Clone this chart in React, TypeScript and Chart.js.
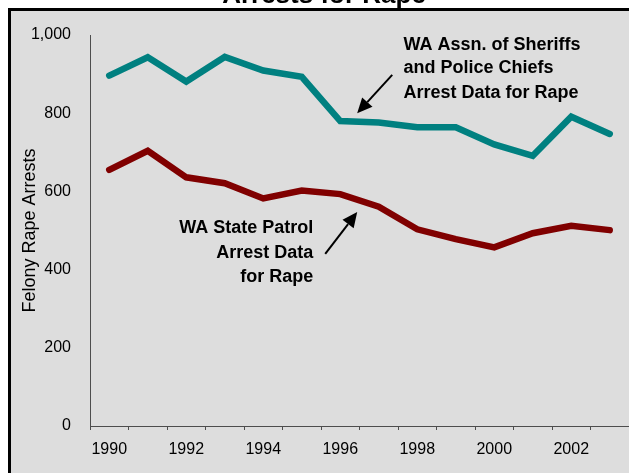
import React, { useEffect, useRef } from "react";
import { Chart, registerables } from "chart.js";

Chart.register(...registerables);

const years = ["1990","1991","1992","1993","1994","1995","1996","1997","1998","1999","2000","2001","2002","2003"];
const sheriffsData = [896, 943, 881, 944, 909, 893, 780, 776, 764, 764, 720, 691, 791, 747];
const patrolData = [655, 704, 636, 621, 582, 602, 593, 561, 503, 478, 457, 493, 512, 501];
const yTicks = [0, 200, 400, 600, 800, 1000];

const titleText = "Arrests for Rape";
const yTitle = "Felony Rape Arrests";
const sheriffsLabel = ["WA Assn. of Sheriffs", "and Police Chiefs", "Arrest Data for Rape"];
const patrolLabel = ["WA State Patrol", "Arrest Data", "for Rape"];

const FONT = "'Liberation Sans', Arial, Helvetica, sans-serif";

const framePlugin = {
  id: "frame",
  beforeDraw(chart: any) {
    const ctx = chart.ctx;
    ctx.save();
    ctx.fillStyle = "#ffffff";
    ctx.fillRect(0, 0, chart.width, chart.height);
    ctx.fillStyle = "#000000";
    ctx.font = `bold 26px ${FONT}`;
    ctx.textAlign = "center";
    ctx.textBaseline = "alphabetic";
    ctx.fillText(titleText, 324, 3);
    ctx.fillStyle = "#dddddd";
    ctx.fillRect(9.5, 9.5, chart.width + 50, chart.height + 50);
    ctx.strokeStyle = "#000000";
    ctx.lineWidth = 3;
    ctx.strokeRect(9.5, 9.5, chart.width + 50, chart.height + 50);
    ctx.restore();
  },
};

function arrow(ctx: any, x1: number, y1: number, x2: number, y2: number) {
  const ang = Math.atan2(y2 - y1, x2 - x1);
  const headLen = 15;
  const headW = 7;
  const bx = x2 - headLen * Math.cos(ang);
  const by = y2 - headLen * Math.sin(ang);
  ctx.beginPath();
  ctx.moveTo(x1, y1);
  ctx.lineTo(bx, by);
  ctx.lineWidth = 2;
  ctx.strokeStyle = "#000";
  ctx.stroke();
  ctx.beginPath();
  ctx.moveTo(x2, y2);
  ctx.lineTo(bx + headW * Math.sin(ang), by - headW * Math.cos(ang));
  ctx.lineTo(bx - headW * Math.sin(ang), by + headW * Math.cos(ang));
  ctx.closePath();
  ctx.fillStyle = "#000";
  ctx.fill();
}

const annotationPlugin = {
  id: "annotations",
  afterDatasetsDraw(chart: any) {
    const ctx = chart.ctx;
    const xs = chart.scales.x;
    const ys = chart.scales.y;
    const px = (i: number) => xs.getPixelForValue(i);
    const py = (v: number) => ys.getPixelForValue(v);
    ctx.save();
    ctx.fillStyle = "#000";
    ctx.font = `bold 18px ${FONT}`;
    ctx.textBaseline = "middle";
    ctx.textAlign = "left";
    const sVals = [974, 916, 852];
    sheriffsLabel.forEach((t, k) => ctx.fillText(t, px(7.64), py(sVals[k])));
    ctx.textAlign = "right";
    const pVals = [506, 442, 381];
    patrolLabel.forEach((t, k) => ctx.fillText(t, px(5.3), py(pVals[k])));
    arrow(ctx, px(7.35), py(898), px(6.44), py(800));
    arrow(ctx, px(5.61), py(440), px(6.44), py(547));
    ctx.restore();
  },
};

export default function App() {
  const ref = useRef<HTMLCanvasElement>(null);
  useEffect(() => {
    if (!ref.current) return;
    const chart = new Chart(ref.current, {
      type: "line",
      data: {
        labels: years,
        datasets: [
          {
            label: "Sheriffs",
            data: sheriffsData,
            borderColor: "#008080",
            backgroundColor: "#008080",
            borderWidth: 6.5,
            pointRadius: 0,
            tension: 0,
            borderCapStyle: "round",
            borderJoinStyle: "miter",
          },
          {
            label: "Patrol",
            data: patrolData,
            borderColor: "#800000",
            backgroundColor: "#800000",
            borderWidth: 6.5,
            pointRadius: 0,
            tension: 0,
            borderCapStyle: "round",
            borderJoinStyle: "miter",
          },
        ],
      },
      options: {
        responsive: false,
        animation: false,
        layout: { padding: { top: 35, left: 0, right: 0, bottom: 0 } },
        plugins: { legend: { display: false }, tooltip: { enabled: false }, title: { display: false } },
        scales: {
          x: {
            type: "category",
            offset: true,
            afterFit(scale: any) { scale.height = 47; },
            grid: { display: true, drawOnChartArea: false, drawTicks: true, tickLength: 4, color: "#4d4d4d", offset: true },
            border: { display: true, color: "#4d4d4d", width: 1 },
            ticks: {
              autoSkip: false,
              maxRotation: 0,
              minRotation: 0,
              padding: 10,
              color: "#000",
              font: { family: FONT, size: 16 },
              callback: (_v: any, i: number) => (i % 2 === 0 ? years[i] : ""),
            },
          },
          y: {
            min: 0,
            max: 1000,
            afterFit(scale: any) { scale.width = 90; },
            afterBuildTicks(scale: any) { scale.ticks = yTicks.map((v) => ({ value: v })); },
            grid: { display: false, drawTicks: false },
            border: { display: true, color: "#4d4d4d", width: 1 },
            ticks: {
              padding: 19,
              color: "#000",
              font: { family: FONT, size: 16 },
              callback: (v: any) => Number(v).toLocaleString("en-US"),
            },
            title: {
              display: true,
              text: yTitle,
              color: "#000",
              font: { family: FONT, size: 18 },
              padding: { top: 19, bottom: 0 },
            },
          },
        },
      },
      plugins: [framePlugin, annotationPlugin],
    } as any);
    return () => chart.destroy();
  }, []);
  return (
    <div style={{ position: "absolute", left: 0, top: 0, width: 629, height: 473 }}>
      <canvas ref={ref} width={629} height={473} style={{ width: 629, height: 473, display: "block" }} />
    </div>
  );
}
